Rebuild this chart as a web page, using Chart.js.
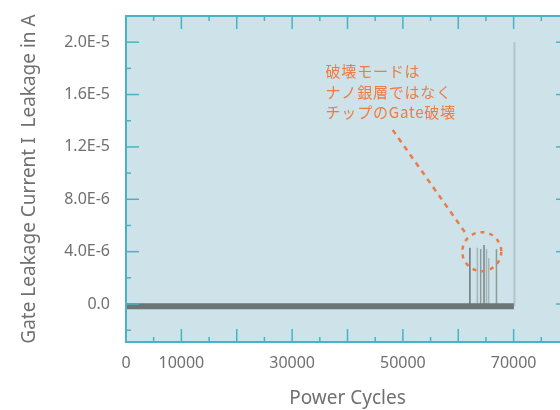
<!DOCTYPE html>
<html>
<head>
<meta charset="utf-8">
<script src="https://cdn.jsdelivr.net/npm/chart.js@4"></script>
<style>
  html, body { margin: 0; padding: 0; background: #fff; overflow: hidden; }
  #wrap { width: 576px; height: 410px; }
</style>
</head>
<body>
<div id="wrap"><canvas id="leakChart" width="576" height="410"></canvas></div>
<script>
// x axis labels that are printed
const xTickLabels = [0, 10000, 30000, 50000, 70000]

// baseline noise band (power cycles / leakage in A)
const bandX = [0, 70050]
const bandY = [-1.7e-7, -1.7e-7]

// leakage spikes
const spikeX = [62100, 63450, 64050, 64650, 65100, 65500, 66900, 70150]
const spikePeak = [4.3e-6, 4.3e-6, 4.2e-6, 4.5e-6, 4.2e-6, 3.5e-6, 4.2e-6, 2.0e-5]
const spikeBase = -1.7e-7

// annotation
const noteLines = ["破壊モードは", "ナノ銀層ではなく", "チップのGate破壊"]
const noteAt = { x: 36040, y: 1.775e-5 }
const leaderFrom = { x: 48160, y: 1.33e-5 }
const leaderTo = { x: 61180, y: 5.5e-6 }
const ringAt = { x: 64250, y: 4.0e-6 }

const spikeShade = ["#6a7575", "#a6b4b7", "#8c9a9c", "#778484", "#a6b4b7", "#a6b4b7", "#8c9a9c", "#b3c3c8"]
const orange = "#ee7a45"
const teal = "#47b3c6"
const textGray = "#707070"
const fontFam = "'Noto Sans', 'Noto Sans CJK JP', sans-serif"

const datasets = [{
  data: bandX.map((x, i) => ({ x, y: bandY[i] })),
  borderColor: "#6a7575",
  borderWidth: 6,
  pointRadius: 0,
  showLine: true,
}]
spikeX.forEach((x, i) => {
  datasets.push({
    data: [{ x, y: spikeBase }, { x, y: spikePeak[i] }],
    borderColor: spikeShade[i],
    borderWidth: i === spikeX.length - 1 ? 2 : 1.5,
    pointRadius: 0,
    showLine: true,
  })
})

function seg(ctx, x1, y1, x2, y2) {
  ctx.beginPath()
  ctx.moveTo(x1, y1)
  ctx.lineTo(x2, y2)
  ctx.stroke()
}

const framePlugin = {
  id: "frame",
  beforeDraw(chart) {
    const { ctx, chartArea: a } = chart
    ctx.save()
    ctx.fillStyle = "#cde3e9"
    ctx.fillRect(a.left, a.top, a.right - a.left, a.bottom - a.top)
    ctx.restore()
  },
  afterDatasetsDraw(chart) {
    const { ctx, chartArea: a, scales: { x, y } } = chart
    ctx.save()
    ctx.strokeStyle = teal
    ctx.lineWidth = 1.5
    for (let v = 0; v <= x.max; v += 5000) {
      const px = x.getPixelForValue(v)
      const len = v % 10000 === 0 ? 13 : 5
      seg(ctx, px, a.bottom, px, a.bottom - len)
      seg(ctx, px, a.top, px, a.top + len)
    }
    for (let k = -1; k <= 11; k++) {
      const py = y.getPixelForValue(k * 2e-6)
      if (py < a.top || py > a.bottom) continue
      const len = k % 2 === 0 ? 13 : 5
      seg(ctx, a.left, py, a.left + len, py)
      seg(ctx, a.right, py, a.right - len, py)
    }
    ctx.lineWidth = 2
    ctx.strokeRect(a.left, a.top, a.right - a.left, a.bottom - a.top)

    // annotation
    ctx.strokeStyle = orange
    ctx.lineWidth = 2.5
    ctx.setLineDash([5, 5])
    seg(ctx, x.getPixelForValue(leaderFrom.x), y.getPixelForValue(leaderFrom.y),
      x.getPixelForValue(leaderTo.x), y.getPixelForValue(leaderTo.y))
    ctx.setLineDash([4, 5])
    ctx.beginPath()
    ctx.arc(x.getPixelForValue(ringAt.x), y.getPixelForValue(ringAt.y), 19.5, 0, Math.PI * 2)
    ctx.stroke()
    ctx.setLineDash([])

    ctx.fillStyle = orange
    ctx.font = "15px 'Noto Sans CJK JP', sans-serif"
    ctx.letterSpacing = "0.8px"
    ctx.textBaseline = "middle"
    const tx = x.getPixelForValue(noteAt.x)
    const ty = y.getPixelForValue(noteAt.y)
    noteLines.forEach((t, i) => ctx.fillText(t, tx, ty + i * 20.5))
    ctx.restore()
  }
}

new Chart(document.getElementById("leakChart"), {
  type: "scatter",
  data: { datasets },
  options: {
    responsive: false,
    animation: false,
    layout: { padding: { top: 16, right: 7, left: 0, bottom: 0 } },
    plugins: {
      legend: { display: false },
      tooltip: { enabled: false },
    },
    scales: {
      x: {
        type: "linear",
        min: 0,
        max: 80000,
        grid: { display: false, drawTicks: true, tickLength: 12 },
        border: { display: false },
        afterFit: (s) => { s.height = 68 },
        ticks: {
          stepSize: 10000,
          autoSkip: false,
          maxRotation: 0,
          padding: 0,
          color: textGray,
          font: { family: fontFam, size: 16 },
          callback: (v) => xTickLabels.includes(v) ? String(v) : "",
        },
        title: {
          display: true,
          text: "Power Cycles",
          color: textGray,
          font: { family: fontFam, size: 19 },
          padding: { top: 1, bottom: 0 },
        },
      },
      y: {
        min: -2.9e-6,
        max: 2.2e-5,
        grid: { display: false, drawTicks: true, tickLength: 16 },
        border: { display: false },
        afterFit: (s) => { s.width = 126 },
        ticks: {
          stepSize: 4e-6,
          includeBounds: false,
          padding: 0,
          color: textGray,
          font: { family: fontFam, size: 16 },
          callback: (v) => Math.abs(v) < 1e-12 ? "0.0" : v.toExponential(1).toUpperCase(),
        },
        title: {
          display: true,
          text: "Gate Leakage Current I  Leakage in A",
          color: textGray,
          font: { family: fontFam, size: 19 },
          padding: { top: 18, bottom: 0 },
        },
      },
    },
  },
  plugins: [framePlugin],
})
</script>
</body>
</html>
